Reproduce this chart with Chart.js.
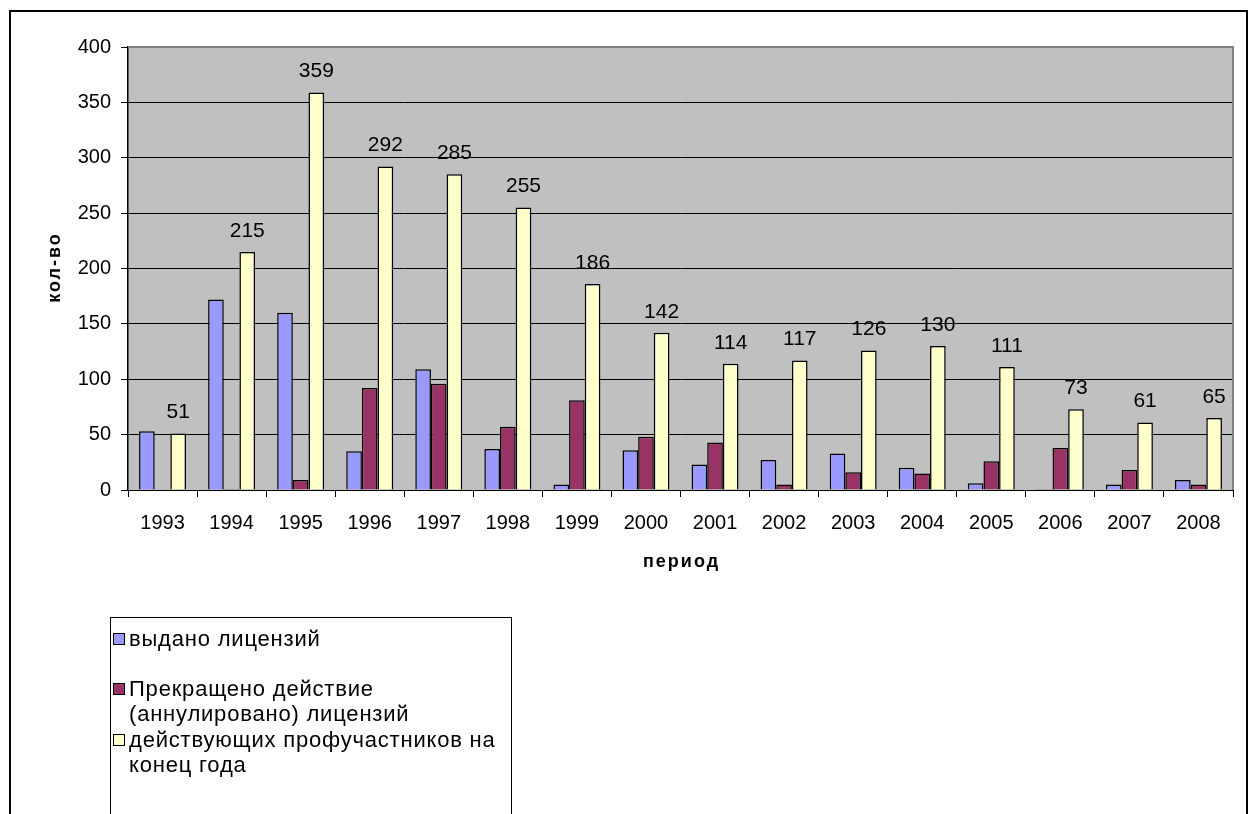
<!DOCTYPE html>
<html><head><meta charset="utf-8">
<script src="https://cdn.jsdelivr.net/npm/chart.js@4.4.1/dist/chart.umd.min.js"></script>
<style>
html,body{margin:0;padding:0;background:#fff;}
#wrap{position:relative;width:1256px;height:814px;overflow:hidden;}
#frame{position:absolute;left:9px;top:10px;width:1239px;height:900px;border:2px solid #000;box-sizing:border-box;}
canvas{position:absolute;left:0;top:0;}
#legend{position:absolute;left:110px;top:617px;width:402px;height:300px;border:1px solid #000;box-sizing:border-box;font-family:"Liberation Sans",Arial,sans-serif;font-size:22px;letter-spacing:0.8px;color:#000;}
.item{position:absolute;left:2px;line-height:25px;}
.sw{position:absolute;left:0;top:7px;width:12px;height:12px;border:1px solid #000;box-sizing:border-box;}
.txt{padding-left:16px;}
</style></head><body>
<div id="wrap">
<div id="frame"></div>
<canvas id="c" width="1256" height="814"></canvas>
<div id="legend"></div>
</div>
<script>
const categories = ["1993","1994","1995","1996","1997","1998","1999","2000","2001","2002","2003","2004","2005","2006","2007","2008"];
const issued = [53,172,160,35,109,37,5,36,23,27,33,20,6,1,5,9];
const terminated = [0,1,9,92,96,57,81,48,43,5,16,15,26,38,18,5];
const active = [51,215,359,292,285,255,186,142,114,117,126,130,111,73,61,65];
const seriesNames = ["выдано лицензий","Прекращено действие (аннулировано) лицензий","действующих профучастников на конец года"];
const legendLines = [["выдано лицензий"],["Прекращено действие","(аннулировано) лицензий"],["действующих профучастников на","конец года"]];
const colors = ["#9999FF","#993366","#FFFFCC"];
const yTicks = [0,50,100,150,200,250,300,350,400];
const xTitle = "период";
const yTitle = "кол-во";

const FONT = '"Liberation Sans", Arial, sans-serif';

const bgPlugin = {
  id:'bg',
  beforeDraw(chart){
    const {ctx, chartArea:a} = chart;
    ctx.save();
    ctx.fillStyle = '#C0C0C0';
    ctx.fillRect(a.left, a.top, a.right-a.left, a.bottom-a.top);
    ctx.restore();
  },
  afterDraw(chart){
    const {ctx, chartArea:a} = chart;
    ctx.save();
    ctx.strokeStyle = '#808080';
    ctx.lineWidth = 2;
    ctx.beginPath();
    ctx.moveTo(a.left, a.top);
    ctx.lineTo(a.right, a.top);
    ctx.lineTo(a.right, a.bottom);
    ctx.stroke();
    ctx.fillStyle = '#000';
    ctx.font = 'bold 18px ' + FONT;
    ctx.letterSpacing = '2px';
    ctx.textAlign = 'center';
    ctx.textBaseline = 'middle';
    ctx.fillText(xTitle, (a.left + a.right)/2 + 1, 562);
    ctx.translate(55, (a.top + a.bottom)/2);
    ctx.rotate(-Math.PI/2);
    ctx.fillText(yTitle, 1, 0);
    ctx.restore();
  },
  afterDatasetsDraw(chart){
    const {ctx} = chart;
    const meta = chart.getDatasetMeta(2);
    ctx.save();
    ctx.font = '21px ' + FONT;
    ctx.fillStyle = '#000';
    ctx.textAlign = 'center';
    ctx.textBaseline = 'middle';
    meta.data.forEach((bar,i)=>{
      ctx.fillText(String(active[i]), bar.x, bar.y - 21);
    });
    ctx.restore();
  }
};

new Chart(document.getElementById('c'), {
  type:'bar',
  data:{
    labels: categories,
    datasets:[
      {label:seriesNames[0], data:issued, backgroundColor:colors[0], borderColor:'#000', borderWidth:1.5},
      {label:seriesNames[1], data:terminated, backgroundColor:colors[1], borderColor:'#000', borderWidth:1.5},
      {label:seriesNames[2], data:active, backgroundColor:colors[2], borderColor:'#000', borderWidth:1.5}
    ]
  },
  options:{
    responsive:false,
    animation:false,
    devicePixelRatio:1,
    layout:{padding:{left:0,top:47,right:23,bottom:239}},
    datasets:{bar:{categoryPercentage:0.68, barPercentage:1.0}},
    plugins:{legend:{display:false}, tooltip:{enabled:false}},
    scales:{
      x:{
        afterFit(s){ s.height = 85; },
        grid:{offset:true, drawOnChartArea:false, color:'#000', tickLength:7, lineWidth:1},
        border:{color:'#000', width:1},
        ticks:{color:'#000', font:{family:FONT, size:20}, padding:14, maxRotation:0},
        title:{display:false}
      },
      y:{
        min:0, max:400,
        afterFit(s){ s.width = 128; },
        afterBuildTicks(s){ s.ticks = yTicks.map(v=>({value:v})); },
        grid:{color:'#000', lineWidth:1, tickLength:7},
        border:{color:'#000', width:1.5},
        ticks:{color:'#000', font:{family:FONT, size:20}, padding:10},
        title:{display:false}
      }
    }
  },
  plugins:[bgPlugin]
});

const lg = document.getElementById('legend');
const tops = [8, 58, 109];
legendLines.forEach((lines,i)=>{
  const d = document.createElement('div');
  d.className='item'; d.style.top = tops[i]+'px';
  d.innerHTML = '<span class="sw" style="background:'+colors[i]+'"></span><div class="txt">'+lines.join('<br>')+'</div>';
  lg.appendChild(d);
});
</script>
</body></html>
